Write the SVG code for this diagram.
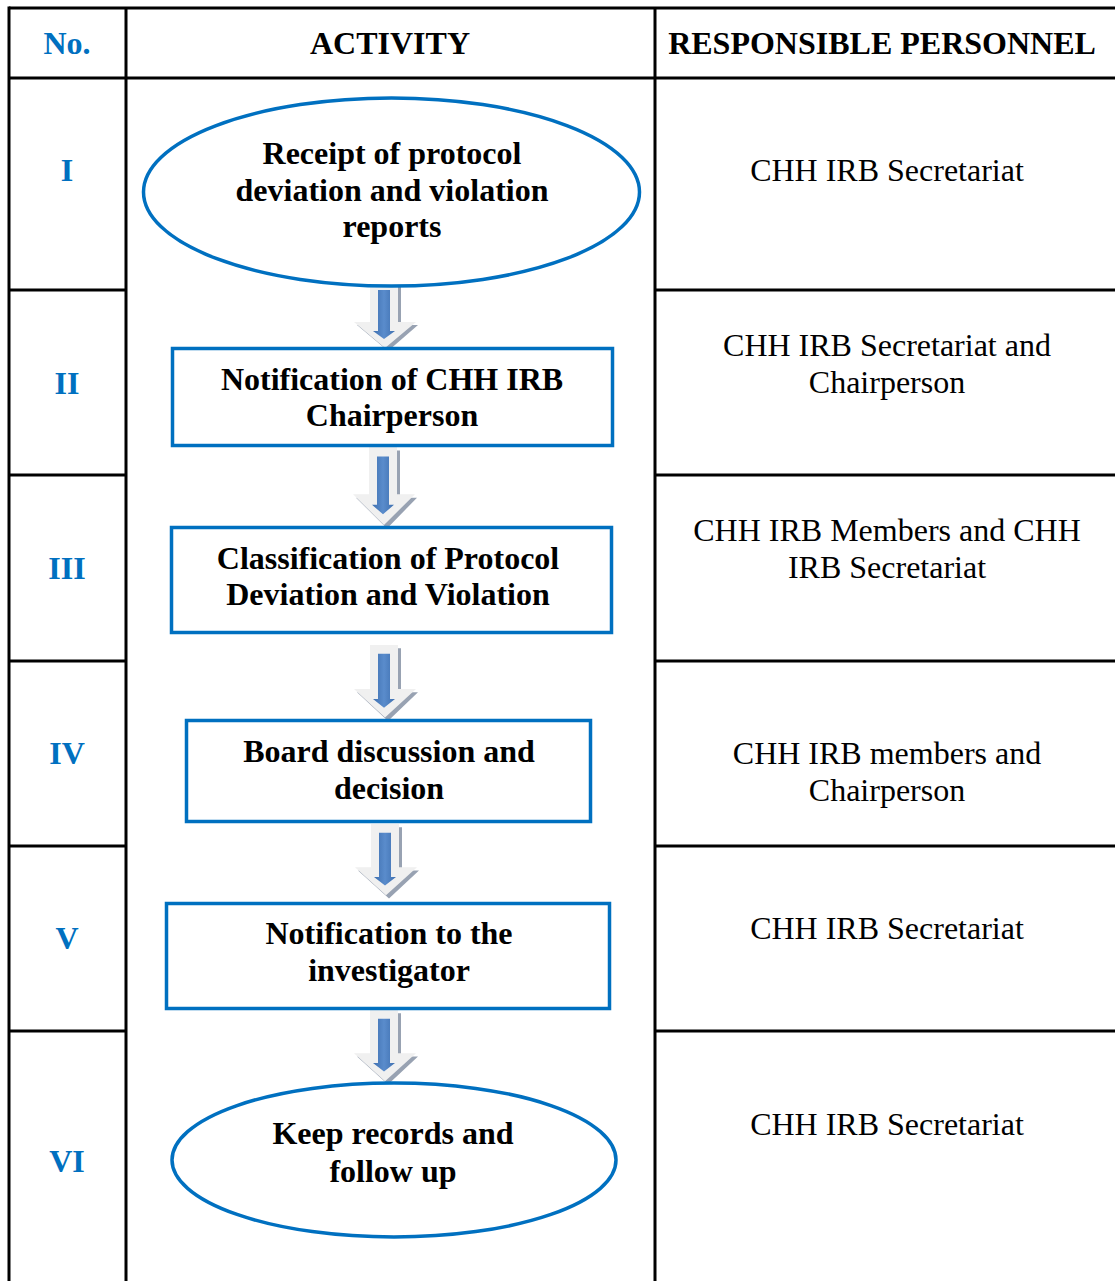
<svg xmlns="http://www.w3.org/2000/svg" width="1115" height="1281" viewBox="0 0 1115 1281">
<style>
.grid{stroke:#000;stroke-width:3;fill:none}
.shape{fill:#fff;stroke:#0070c0;stroke-width:3.5}
.t{font-family:"Liberation Serif","Times New Roman",serif;font-size:32px;text-anchor:middle;fill:#000}
.b{font-weight:bold}
.num{font-family:"Liberation Serif","Times New Roman",serif;font-size:32px;font-weight:bold;text-anchor:middle;fill:#0070c0}
</style>
<defs>
<linearGradient id="blueg" x1="0" y1="0" x2="1" y2="0">
<stop offset="0" stop-color="#3f70b0"/>
<stop offset="0.5" stop-color="#5a8ccc"/>
<stop offset="1" stop-color="#3f70b0"/>
</linearGradient>
<g id="arr">
<polygon points="-12,3 16,3 16,43 33,43 3,69 -28,43 -12,43" fill="#98a2b2"/>
<polygon points="-15,0 13,0 13,40 31,40 0,66 -31,40 -15,40" fill="#f0f0f0"/>
<polygon points="-7,8 5,8 5,49 10,49 -1,57 -12,49 -7,49" fill="url(#blueg)"/>
</g>
</defs>
<rect width="1115" height="1281" fill="#fff"/>
<g id="table">
<line class="grid" x1="9" y1="8" x2="1115" y2="8"/>
<line class="grid" x1="9" y1="78" x2="1115" y2="78"/>
<line class="grid" x1="9" y1="6.5" x2="9" y2="1281"/>
<line class="grid" x1="126" y1="8" x2="126" y2="1281"/>
<line class="grid" x1="655" y1="8" x2="655" y2="1281"/>
<path class="grid" d="M9 290H126M655 290H1115M9 475H126M655 475H1115M9 661H126M655 661H1115M9 846H126M655 846H1115M9 1031H126M655 1031H1115"/>
<text class="num" x="67" y="54">No.</text>
<text class="t b" x="390" y="54">ACTIVITY</text>
<text class="t b" x="882" y="54">RESPONSIBLE PERSONNEL</text>
<text class="num" x="67" y="181">I</text>
<text class="num" x="67" y="394">II</text>
<text class="num" x="67" y="579">III</text>
<text class="num" x="67" y="764">IV</text>
<text class="num" x="67" y="949">V</text>
<text class="num" x="67" y="1172">VI</text>
<text class="t" x="887" y="181">CHH IRB Secretariat</text>
<text class="t" x="887" y="356">CHH IRB Secretariat and</text>
<text class="t" x="887" y="393">Chairperson</text>
<text class="t" x="887" y="541">CHH IRB Members and CHH</text>
<text class="t" x="887" y="578">IRB Secretariat</text>
<text class="t" x="887" y="764">CHH IRB members and</text>
<text class="t" x="887" y="801">Chairperson</text>
<text class="t" x="887" y="939">CHH IRB Secretariat</text>
<text class="t" x="887" y="1135">CHH IRB Secretariat</text>
</g>
<g id="connectors">
<use href="#arr" transform="translate(385,282)"/>
<use href="#arr" transform="translate(384,447) scale(1,1.18)"/>
<use href="#arr" transform="translate(385,645) scale(1,1.1)"/>
<use href="#arr" transform="translate(386,824) scale(1,1.08)"/>
<use href="#arr" transform="translate(385,1010) scale(1,1.08)"/>
</g>
<g id="n1">
<ellipse class="shape" cx="391.5" cy="192" rx="248" ry="94"/>
<text class="t b" x="392" y="164">Receipt of protocol</text>
<text class="t b" x="392" y="201">deviation and violation</text>
<text class="t b" x="392" y="237">reports</text>
</g>
<g id="n2">
<rect class="shape" x="172.5" y="348.5" width="440" height="97"/>
<text class="t b" x="392" y="390">Notification of CHH IRB</text>
<text class="t b" x="392" y="426">Chairperson</text>
</g>
<g id="n3">
<rect class="shape" x="171.5" y="527.5" width="440" height="105"/>
<text class="t b" x="388" y="569">Classification of Protocol</text>
<text class="t b" x="388" y="605">Deviation and Violation</text>
</g>
<g id="n4">
<rect class="shape" x="186.5" y="720.5" width="404" height="101"/>
<text class="t b" x="389" y="762">Board discussion and</text>
<text class="t b" x="389" y="799">decision</text>
</g>
<g id="n5">
<rect class="shape" x="166.5" y="903.5" width="443" height="105"/>
<text class="t b" x="389" y="944">Notification to the</text>
<text class="t b" x="389" y="981">investigator</text>
</g>
<g id="n6">
<ellipse class="shape" cx="394" cy="1160" rx="222" ry="77"/>
<text class="t b" x="393" y="1144">Keep records and</text>
<text class="t b" x="393" y="1182">follow up</text>
</g>
</svg>
